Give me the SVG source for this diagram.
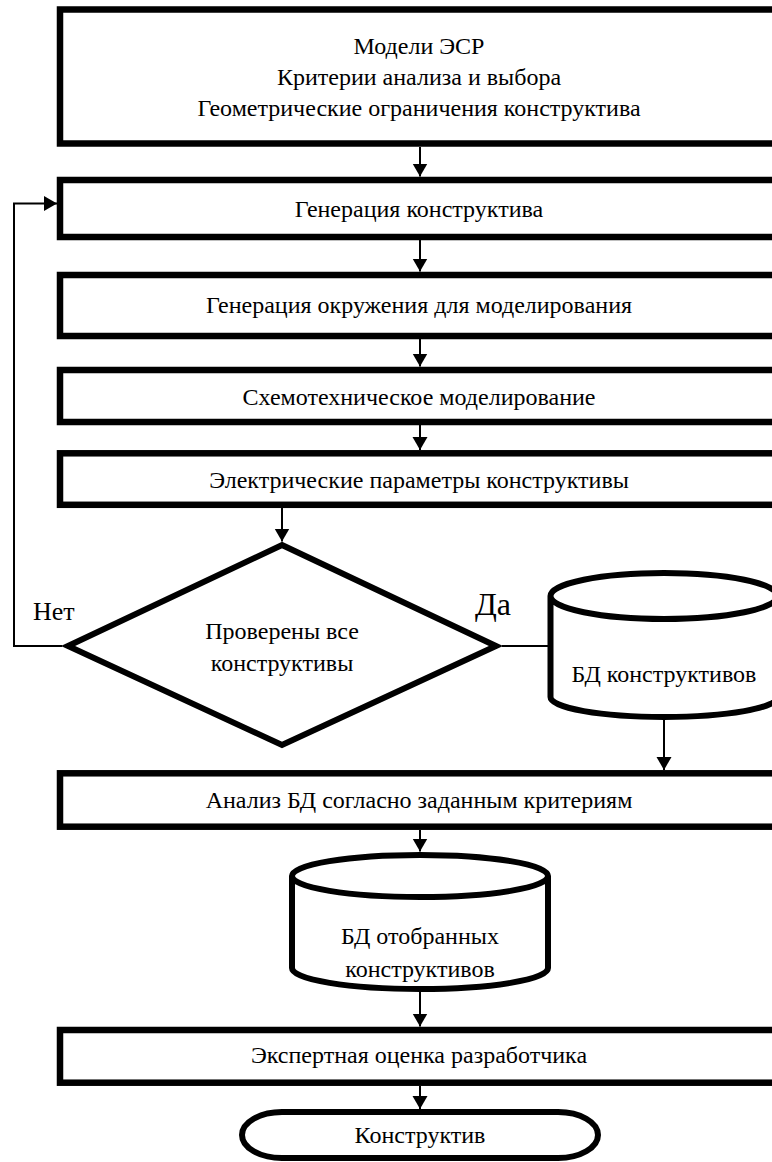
<svg xmlns="http://www.w3.org/2000/svg" width="772" height="1162" viewBox="0 0 772 1162">
<style>
.box{fill:#fff;stroke:#000;stroke-width:6.5}
.shape{fill:#fff;stroke:#000;stroke-width:6}
.t{font-family:"Liberation Serif","Times New Roman",serif;font-size:24px;fill:#000;text-anchor:middle}
.lbl{font-family:"Liberation Serif","Times New Roman",serif;fill:#000}
.c{fill:none;stroke:#000;stroke-width:2}
</style>
<defs>
<marker id="ah" markerUnits="userSpaceOnUse" markerWidth="14" markerHeight="16" refX="13" refY="7.5" orient="auto">
<path d="M0,0 L13,7.5 L0,15 Z" fill="#000"/>
</marker>
</defs>
<rect width="772" height="1162" fill="#fff"/>
<g id="connectors">
<line class="c" x1="420" y1="147" x2="420" y2="176.5" marker-end="url(#ah)"/>
<line class="c" x1="420" y1="240" x2="420" y2="271.5" marker-end="url(#ah)"/>
<line class="c" x1="420" y1="339" x2="420" y2="366.5" marker-end="url(#ah)"/>
<line class="c" x1="420" y1="425" x2="420" y2="450" marker-end="url(#ah)"/>
<line class="c" x1="282" y1="508" x2="282" y2="541.5" marker-end="url(#ah)"/>
<path class="c" d="M62,646 H14 V203.5 H57" marker-end="url(#ah)"/>
<line class="c" x1="502" y1="646" x2="548" y2="646"/>
<line class="c" x1="664" y1="719" x2="664" y2="770" marker-end="url(#ah)"/>
<line class="c" x1="420" y1="830" x2="420" y2="851.5" marker-end="url(#ah)"/>
<line class="c" x1="420" y1="991" x2="420" y2="1026.5" marker-end="url(#ah)"/>
<line class="c" x1="420" y1="1086" x2="420" y2="1109" marker-end="url(#ah)"/>
</g>
<g id="n1">
<rect class="box" x="60" y="9.5" width="718" height="134"/>
<text class="t" x="419" y="54">Модели ЭСР</text>
<text class="t" x="419" y="85">Критерии анализа и выбора</text>
<text class="t" x="419" y="116">Геометрические ограничения конструктива</text>
</g>
<g id="n2">
<rect class="box" x="60" y="180" width="718" height="57"/>
<text class="t" x="419" y="217">Генерация конструктива</text>
</g>
<g id="n3">
<rect class="box" x="60" y="275" width="718" height="61"/>
<text class="t" x="419" y="313">Генерация окружения для моделирования</text>
</g>
<g id="n4">
<rect class="box" x="60" y="370" width="718" height="52"/>
<text class="t" x="419" y="405">Схемотехническое моделирование</text>
</g>
<g id="n5">
<rect class="box" x="60" y="453.3" width="718" height="51.5"/>
<text class="t" x="419" y="488">Электрические параметры конструктивы</text>
</g>
<g id="n6">
<path class="shape" stroke-miterlimit="10" d="M282,545 L496,646 L282,745 L68,646 Z"/>
<text class="t" x="282" y="639">Проверены все</text>
<text class="t" x="282" y="671">конструктивы</text>
</g>
<g id="lbl-no">
<text class="lbl" x="33" y="620" font-size="26">Нет</text>
</g>
<g id="lbl-yes">
<text class="lbl" x="475" y="615" font-size="32">Да</text>
</g>
<g id="n7">
<path class="shape" d="M550.5,596 V697 A113.5,20 0 0 0 777.5,697 V596 A113.5,23 0 0 0 550.5,596 A113.5,23 0 0 0 777.5,596"/>
<text class="t" x="664" y="682">БД конструктивов</text>
</g>
<g id="n8">
<rect class="box" x="60" y="773.3" width="718" height="53.4"/>
<text class="t" x="419" y="808">Анализ БД согласно заданным критериям</text>
</g>
<g id="n9">
<path class="shape" d="M292,876 V968 A128,21 0 0 0 548,968 V876 A128,21 0 0 0 292,876 A128,21 0 0 0 548,876"/>
<text class="t" x="420" y="944">БД отобранных</text>
<text class="t" x="420" y="977">конструктивов</text>
</g>
<g id="n10">
<rect class="box" x="60" y="1030" width="718" height="52.7"/>
<text class="t" x="419" y="1063">Экспертная оценка разработчика</text>
</g>
<g id="n11">
<path class="shape" stroke-width="5.5" d="M282,1112 H558 A40,23 0 0 1 558,1158 H282 A40,23 0 0 1 282,1112 Z"/>
<text class="t" x="420" y="1143">Конструктив</text>
</g>
</svg>
